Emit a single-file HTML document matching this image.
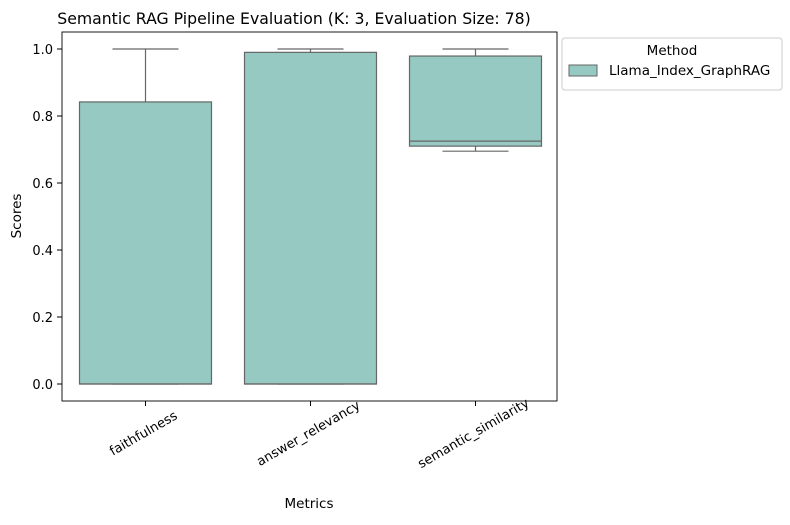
<!DOCTYPE html>
<html><head><meta charset="utf-8"><style>
body{margin:0;background:#fff;font-family:"Liberation Sans","DejaVu Sans",sans-serif;}
svg text{font-family:"DejaVu Sans","Liberation Sans",sans-serif;fill:#000;}
</style></head><body>
<svg id="chart" width="790" height="520" xmlns="http://www.w3.org/2000/svg">
<text x="294" y="24" font-size="15.7" text-anchor="middle">Semantic RAG Pipeline Evaluation (K: 3, Evaluation Size: 78)</text>
<g id="plot"></g>
<rect x="62" y="32" width="495" height="369" fill="none" stroke="#000" stroke-width="0.9"/>
<text x="309" y="508" font-size="13.5" text-anchor="middle">Metrics</text>
<text transform="translate(21,216) rotate(-90)" font-size="13.5" text-anchor="middle">Scores</text>
<g>
<rect x="562" y="38" width="220" height="52" fill="#fff" stroke="#ccc" rx="3"/>
<text x="672" y="55" font-size="13.5" text-anchor="middle">Method</text>
<rect x="569" y="65" width="28" height="11" fill="#96c9c1" stroke="#666"/>
<text x="609" y="75" font-size="13.5">Llama_Index_GraphRAG</text>
</g>
</svg>
<script>
const categories=["faithfulness","answer_relevancy","semantic_similarity"];
const whiskerLow=[0,0,0.695];
const q1=[0,0,0.71];
const median=[0,0,0.725];
const q3=[0.842,0.99,0.979];
const whiskerHigh=[1.0,1.0,1.0];
const yTicks=[0.0,0.2,0.4,0.6,0.8,1.0];
const NS="http://www.w3.org/2000/svg";
const g=document.getElementById('plot');
const y=v=>384-v*335;
const band=165, x0=62;
const xc=i=>x0+band*(i+0.5)+1;
function mk(t,a,p){const e=document.createElementNS(NS,t);for(const k in a)e.setAttribute(k,a[k]);(p||g).appendChild(e);return e;}
yTicks.forEach(v=>{
 const l=mk('line',{x1:57,x2:62,y1:y(v),y2:y(v),stroke:'#000'});
 
 
 const t=mk('text',{x:53,y:y(v)+5,'font-size':13,'text-anchor':'end'});t.textContent=v.toFixed(1);
 
 
});
categories.forEach((c,i)=>{
 const cx=xc(i),w=132,hw=w/2;
 const grp=mk('g',{});
 
 
 mk('line',{x1:cx,x2:cx,y1:y(whiskerHigh[i]),y2:y(q3[i]),stroke:'#666','stroke-width':1.2},grp);
 mk('line',{x1:cx,x2:cx,y1:y(q1[i]),y2:y(whiskerLow[i]),stroke:'#666','stroke-width':1.2},grp);
 mk('line',{x1:cx-hw/2,x2:cx+hw/2,y1:y(whiskerHigh[i]),y2:y(whiskerHigh[i]),stroke:'#666','stroke-width':1.2},grp);
 mk('line',{x1:cx-hw/2,x2:cx+hw/2,y1:y(whiskerLow[i]),y2:y(whiskerLow[i]),stroke:'#666','stroke-width':1.2},grp);
 mk('rect',{x:cx-hw,y:y(q3[i]),width:w,height:Math.max(0,y(q1[i])-y(q3[i])),fill:'#96c9c1',stroke:'#666','stroke-width':1.2},grp);
 mk('line',{x1:cx-hw,x2:cx+hw,y1:y(median[i]),y2:y(median[i]),stroke:'#666','stroke-width':1.2},grp);
 const tk=mk('line',{x1:cx,x2:cx,y1:401,y2:406,stroke:'#000'});
 
 
 const t=mk('text',{'font-size':13,'text-anchor':'middle',transform:`translate(${cx},${437}) rotate(-30)`});t.textContent=c;
 
 
});
</script>
</body></html>
